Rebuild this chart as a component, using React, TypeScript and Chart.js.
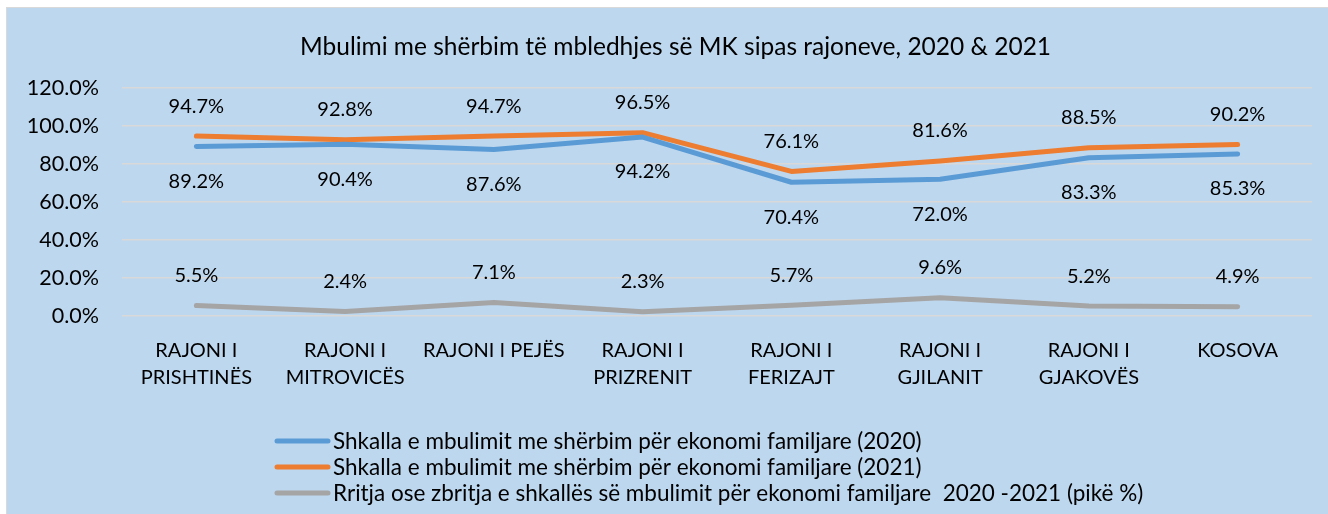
import React, { useEffect, useRef } from "react";
import { Chart, registerables } from "chart.js";

Chart.register(...registerables);

const categories: (string | string[])[] = [
  ["RAJONI I", "PRISHTINËS"],
  ["RAJONI I", "MITROVICËS"],
  "RAJONI I PEJËS",
  ["RAJONI I", "PRIZRENIT"],
  ["RAJONI I", "FERIZAJT"],
  ["RAJONI I", "GJILANIT"],
  ["RAJONI I", "GJAKOVËS"],
  "KOSOVA",
];

const series2020 = [89.2, 90.4, 87.6, 94.2, 70.4, 72.0, 83.3, 85.3];
const series2021 = [94.7, 92.8, 94.7, 96.5, 76.1, 81.6, 88.5, 90.2];
const seriesDiff = [5.5, 2.4, 7.1, 2.3, 5.7, 9.6, 5.2, 4.9];

const seriesNames = [
  "Shkalla e mbulimit me shërbim për ekonomi familjare (2020)",
  "Shkalla e mbulimit me shërbim për ekonomi familjare (2021)",
  "Rritja ose zbritja e shkallës së mbulimit për ekonomi familjare  2020 -2021 (pikë %)",
];
const seriesColors = ["#5B9BD5", "#ED7D31", "#A5A5A5"];
const labelOffsets = [35, -30, -30];

const yTicksMax = 120;
const yTicksStep = 20;
const titleText = "Mbulimi me shërbim të mbledhjes së MK sipas rajoneve, 2020 & 2021";

const FONT = "Lato";

const titlePlugin = {
  id: "customTitle",
  afterDraw(chart: any) {
    const ctx = chart.ctx;
    ctx.save();
    ctx.font = `24.5px ${FONT}`;
    ctx.fillStyle = "#000000";
    ctx.textAlign = "center";
    ctx.textBaseline = "middle";
    ctx.fillText(titleText, chart.width / 2 + 8, 39);
    ctx.restore();
  },
};

const dataLabelPlugin = {
  id: "dataLabelPlugin",
  afterDatasetsDraw(chart: any) {
    const ctx = chart.ctx;
    ctx.save();
    ctx.font = `20px ${FONT}`;
    ctx.fillStyle = "#000000";
    ctx.textAlign = "center";
    ctx.textBaseline = "middle";
    chart.data.datasets.forEach((ds: any, di: number) => {
      const meta = chart.getDatasetMeta(di);
      meta.data.forEach((pt: any, i: number) => {
        const v = ds.data[i] as number;
        ctx.fillText(v.toFixed(1) + "%", pt.x, pt.y + labelOffsets[di]);
      });
    });
    ctx.restore();
  },
};

const legendPlugin = {
  id: "customLegend",
  afterDraw(chart: any) {
    const ctx = chart.ctx;
    ctx.save();
    const x0 = 268;
    const yStart = chart.height - 73;
    ctx.font = `22.5px ${FONT}`;
    ctx.textAlign = "left";
    ctx.textBaseline = "middle";
    chart.data.datasets.forEach((ds: any, i: number) => {
      const y = yStart + i * 26;
      ctx.strokeStyle = ds.borderColor;
      ctx.lineWidth = 5;
      ctx.lineCap = "round";
      ctx.beginPath();
      ctx.moveTo(x0 + 2, y);
      ctx.lineTo(x0 + 53, y);
      ctx.stroke();
      ctx.fillStyle = "#000000";
      ctx.fillText(ds.label, x0 + 58, y + 1);
    });
    ctx.restore();
  },
};

export default function App() {
  const ref = useRef<HTMLCanvasElement | null>(null);

  useEffect(() => {
    if (!ref.current) return;
    const datasets = [series2020, series2021, seriesDiff].map((d, i) => ({
      label: seriesNames[i],
      data: d,
      borderColor: seriesColors[i],
      backgroundColor: seriesColors[i],
      borderWidth: 5,
      borderCapStyle: "round" as const,
      borderJoinStyle: "round" as const,
      pointRadius: 0,
      tension: 0,
      fill: false,
    }));
    const chart = new Chart(ref.current, {
      type: "line",
      data: { labels: categories, datasets },
      options: {
        responsive: false,
        animation: false,
        layout: { padding: { left: 0, right: 16, top: 80, bottom: 118 } },
        plugins: {
          legend: { display: false },
          tooltip: { enabled: false },
          title: { display: false },
        },
        scales: {
          x: {
            offset: true,
            grid: { display: false, drawTicks: false },
            border: { display: false },
            ticks: {
              color: "#000000",
              font: { family: FONT, size: 20, lineHeight: 1.35 },
              padding: 21,
              maxRotation: 0,
              autoSkip: false,
            },
            afterFit(scale: any) {
              scale.height = 80;
            },
          },
          y: {
            min: 0,
            max: yTicksMax,
            grid: { color: "#D9D9D9", lineWidth: 1.5, drawTicks: false },
            border: { display: false },
            ticks: {
              stepSize: yTicksStep,
              color: "#000000",
              font: { family: FONT, size: 21.5 },
              padding: 23,
              callback: (v: any) => Number(v).toFixed(1) + "%",
            },
            afterFit(scale: any) {
              scale.width = 115;
            },
          },
        },
      },
      plugins: [titlePlugin, dataLabelPlugin, legendPlugin],
    });
    return () => chart.destroy();
  }, []);

  return (
    <div
      style={{
        position: "absolute",
        left: 0,
        top: 0,
        width: 1328,
        height: 514,
        background: "#ffffff",
        overflow: "hidden",
      }}
    >
      <div
        style={{
          position: "absolute",
          left: 6,
          top: 7,
          width: 1322,
          height: 507,
          boxSizing: "border-box",
          borderLeft: "1px solid #D9D9D9",
          borderTop: "1px solid #D9D9D9",
          background: "#BDD7EE",
        }}
      >
        <canvas ref={ref} width={1321} height={506} style={{ display: "block" }} />
      </div>
    </div>
  );
}
